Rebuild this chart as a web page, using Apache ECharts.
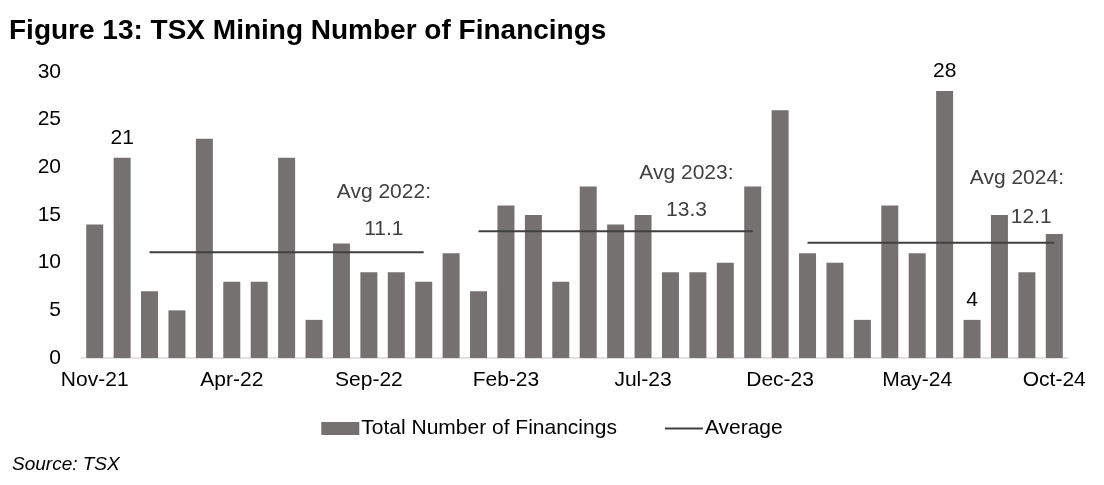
<!DOCTYPE html>
<html><head><meta charset="utf-8">
<script src="https://cdn.jsdelivr.net/npm/echarts@6/dist/echarts.min.js"></script>
<style>html,body{margin:0;padding:0;background:#fff}#c{width:1104px;height:485px}</style>
</head><body><div id="c"></div>
<script>
const months = ['Nov-21','Dec-21','Jan-22','Feb-22','Mar-22','Apr-22','May-22','Jun-22','Jul-22','Aug-22','Sep-22','Oct-22','Nov-22','Dec-22',
'Jan-23','Feb-23','Mar-23','Apr-23','May-23','Jun-23','Jul-23','Aug-23','Sep-23','Oct-23','Nov-23','Dec-23',
'Jan-24','Feb-24','Mar-24','Apr-24','May-24','Jun-24','Jul-24','Aug-24','Sep-24','Oct-24'];
const financings = [14,21,7,5,23,8,8,21,4,12,9,9,8,11,7,16,15,8,18,14,15,9,9,10,18,26,11,10,4,16,11,28,4,15,9,13];
const avg2022 = 11.1, avg2023 = 13.3, avg2024 = 12.1;
const averageLine = [null,null,
  avg2022,avg2022,avg2022,avg2022,avg2022,avg2022,avg2022,avg2022,avg2022,avg2022,avg2022,
  null,
  avg2023,avg2023,avg2023,avg2023,avg2023,avg2023,avg2023,avg2023,avg2023,avg2023,avg2023,
  null,
  avg2024,avg2024,avg2024,avg2024,avg2024,avg2024,avg2024,avg2024,avg2024,avg2024];
const labeledBars = [1,31,32];
const avgLabelText = [
  {idx:10, value:avg2022, text:'Avg 2022:\n' + avg2022, dx:15, dy:0},
  {idx:21, value:avg2023, text:'Avg 2023:\n' + avg2023, dx:16, dy:1},
  {idx:34, value:avg2024, text:'Avg 2024:', dx:-10, dy:-42},
  {idx:35, value:avg2024, text:String(avg2024), dx:-23, dy:-3}
];
const FONT = '"Liberation Sans", Arial, sans-serif';
const barData = financings.map((v,i)=> labeledBars.includes(i) ? {value:v,label:{show:true}} : v);
const chart = echarts.init(document.getElementById('c'),null,{renderer:'canvas'});
chart.setOption({
  animation:false,
  title:[
    {text:'Figure 13: TSX Mining Number of Financings',left:4,top:12,textStyle:{fontFamily:FONT,fontSize:28,fontWeight:'bold',color:'#000'}},
    {text:'Source: TSX',left:7,top:450,textStyle:{fontFamily:FONT,fontSize:19,fontStyle:'italic',fontWeight:'normal',color:'#000'}}
  ],
  grid:{left:81,right:36,top:72,bottom:127,containLabel:false},
  legend:{top:413,left:'center',itemGap:48,itemWidth:38,itemHeight:13,
    textStyle:{fontFamily:FONT,fontSize:21,color:'#000',padding:[0,0,0,-3]},
    data:[{name:'Total Number of Financings',icon:'rect'},
          {name:'Average',icon:'path://M0,0 L0.01,0 L0,0.01 Z M38,13 L37.99,13 L38,12.99 Z M0,5.5 L38,5.5 L38,7.5 L0,7.5 Z'}]},
  xAxis:{type:'category',data:months,
    axisLine:{lineStyle:{color:'#d9d9d9',width:1.5}},axisTick:{show:false},
    axisLabel:{interval:4,fontFamily:FONT,fontSize:21,color:'#000',margin:12}},
  yAxis:{type:'value',min:0,max:30,interval:5,splitLine:{show:false},
    axisLine:{show:false},axisTick:{show:false},
    axisLabel:{fontFamily:FONT,fontSize:21,color:'#000',margin:20}},
  series:[
    {name:'Total Number of Financings',type:'bar',data:barData,barCategoryGap:'38%',
     itemStyle:{color:'#757171'},
     label:{show:false,position:'top',distance:9,fontFamily:FONT,fontSize:21,color:'#000'}},
    {name:'Average',type:'line',data:averageLine,symbol:'none',connectNulls:false,
     lineStyle:{color:'#404040',width:2},itemStyle:{color:'#404040'},
     markPoint:{symbol:'circle',symbolSize:0,silent:true,
       label:{show:true,position:'top',distance:4,fontFamily:FONT,fontSize:21,color:'#404040',lineHeight:37,align:'center'},
       data:avgLabelText.map(a=>({coord:[a.idx,a.value],value:a.value,
         label:{formatter:a.text,offset:[a.dx,a.dy]}}))}}
  ]
});
</script></body></html>
